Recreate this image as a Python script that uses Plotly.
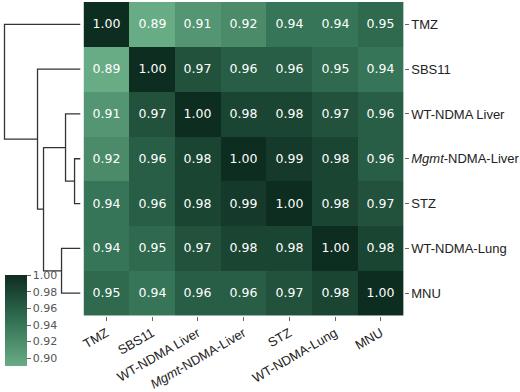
import plotly.graph_objects as go

labels = ["TMZ", "SBS11", "WT-NDMA Liver", "<i>Mgmt</i>-NDMA-Liver", "STZ", "WT-NDMA-Lung", "MNU"]
corr = [
    [1.00, 0.89, 0.91, 0.92, 0.94, 0.94, 0.95],
    [0.89, 1.00, 0.97, 0.96, 0.96, 0.95, 0.94],
    [0.91, 0.97, 1.00, 0.98, 0.98, 0.97, 0.96],
    [0.92, 0.96, 0.98, 1.00, 0.99, 0.98, 0.96],
    [0.94, 0.96, 0.98, 0.99, 1.00, 0.98, 0.97],
    [0.94, 0.95, 0.97, 0.98, 0.98, 1.00, 0.98],
    [0.95, 0.94, 0.96, 0.96, 0.97, 0.98, 1.00],
]
# dendrogram merges: (child_a, child_b, height); leaves 0..6, new nodes 7..
merge_a = [3, 2, 5, 8, 1, 0]
merge_b = [4, 7, 6, 9, 10, 11]
merge_h = [0.006, 0.015, 0.019, 0.037, 0.043, 0.076]
cbar_ticks = [0.90, 0.92, 0.94, 0.96, 0.98, 1.00]

W, H = 520, 392
fig = go.Figure()

colorscale = [[0.0, "rgb(104,172,134)"], [0.5, "rgb(50,112,83)"], [1.0, "rgb(14,45,33)"]]

n = len(labels)
fig.add_trace(go.Heatmap(
    z=corr, x=list(range(n)), y=list(range(n)),
    colorscale=colorscale, zmin=0.89, zmax=1.0,
    texttemplate="%{z:.2f}",
    textfont=dict(family="DejaVu Sans", size=12.5, color="white"),
    xgap=0, ygap=0,
    colorbar=dict(
        x=2 / W, xanchor="left", y=(H - 375) / H, yanchor="bottom",
        thickness=22, len=91, lenmode="pixels", xpad=0, ypad=0,
        outlinewidth=0, tickvals=cbar_ticks,
        ticktext=[f"{v:.2f}" for v in cbar_ticks],
        ticks="outside", ticklen=4, tickcolor="#666",
        tickfont=dict(family="DejaVu Sans", size=11, color="#555"),
    ),
    hoverinfo="skip",
))

# dendrogram coordinates
ypos = {i: float(i) for i in range(n)}
hpos = {i: 0.0 for i in range(n)}
dx, dy = [], []
for k, (a, b, h) in enumerate(zip(merge_a, merge_b, merge_h)):
    node = n + k
    dx += [hpos[a], h, h, hpos[b], None]
    dy += [ypos[a], ypos[a], ypos[b], ypos[b], None]
    ypos[node] = (ypos[a] + ypos[b]) / 2
    hpos[node] = h

fig.add_trace(go.Scatter(x=dx, y=dy, mode="lines", xaxis="x2", yaxis="y2",
                         line=dict(color="#333333", width=1.3), hoverinfo="skip",
                         showlegend=False))

ydom = [1 - 323 / H, 1 - 2 / H]
fig.update_layout(
    width=W, height=H, margin=dict(l=0, r=0, t=0, b=0),
    paper_bgcolor="white", plot_bgcolor="white", showlegend=False,
    xaxis=dict(domain=[81 / W, 403 / W], tickvals=list(range(n)), ticktext=labels,
               tickangle=-30, range=[-0.5, n - 0.5], showgrid=False, zeroline=False,
               ticks="outside", ticklen=4, tickcolor="#666",
               tickfont=dict(family="Liberation Sans", size=13, color="#222")),
    yaxis=dict(domain=ydom, tickvals=list(range(n)), ticktext=labels, side="right",
               range=[n - 0.5, -0.5], showgrid=False, zeroline=False,
               ticks="outside", ticklen=4, tickcolor="#666",
               tickfont=dict(family="Liberation Sans", size=13, color="#222")),
    xaxis2=dict(domain=[0, 78 / W], range=[0.0775, 0], visible=False, anchor="y2"),
    yaxis2=dict(domain=ydom, range=[n - 0.5, -0.5], visible=False, anchor="x2"),
)

fig.write_html("out.html")
